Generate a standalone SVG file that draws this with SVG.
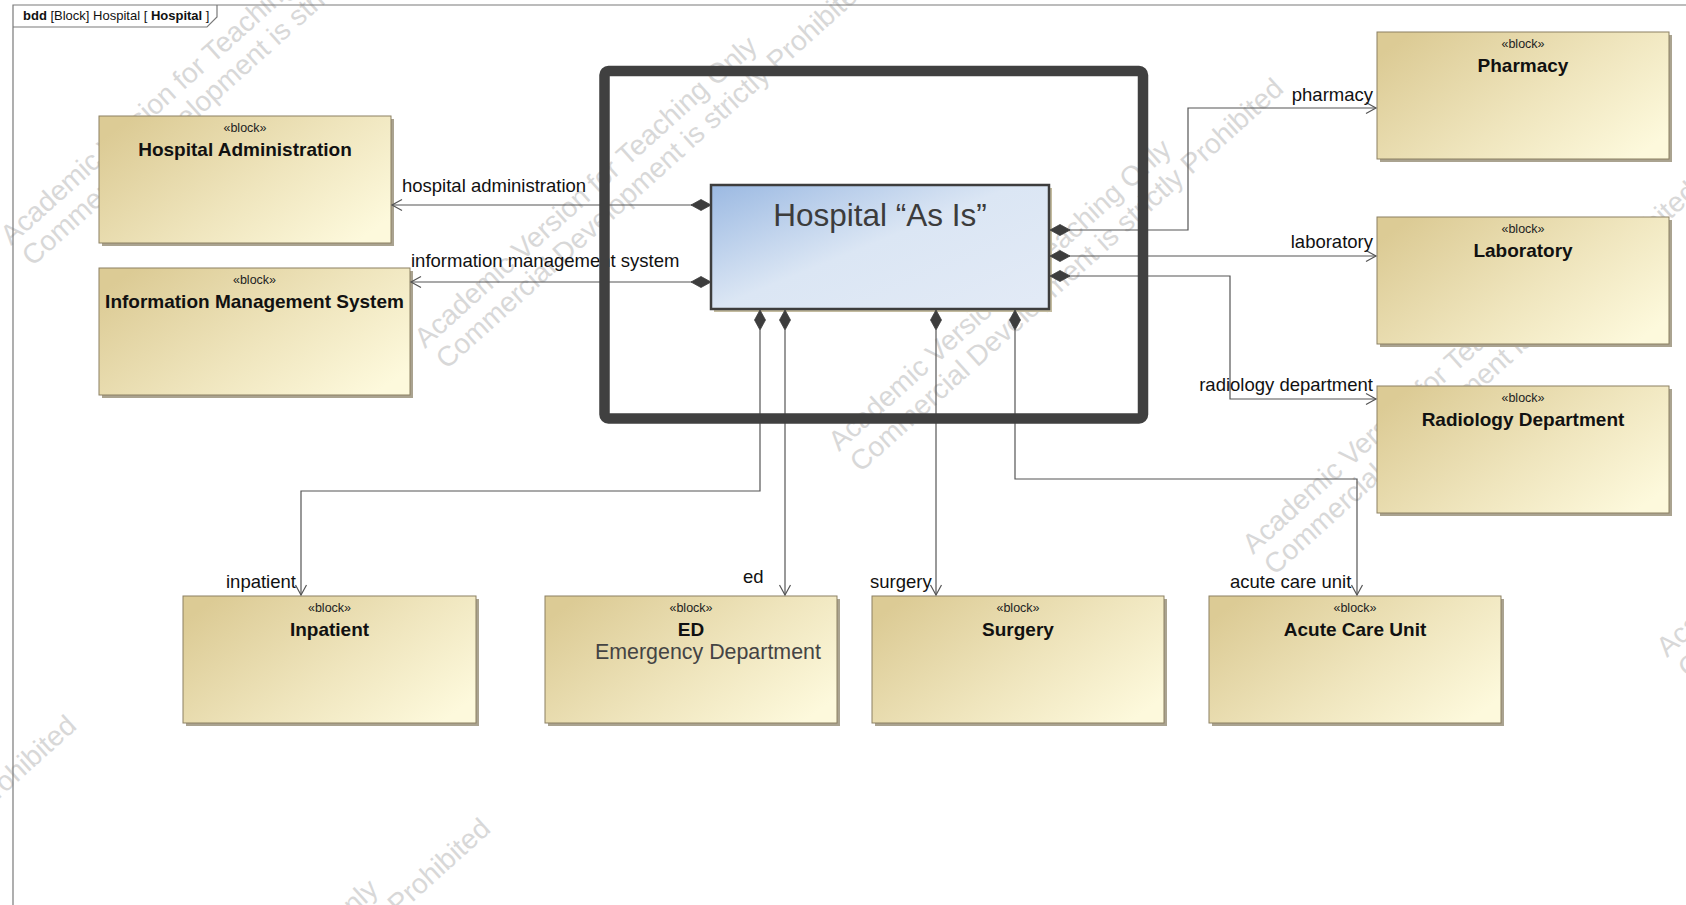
<svg xmlns="http://www.w3.org/2000/svg" width="1686" height="905" viewBox="0 0 1686 905">
  <defs>
    <linearGradient id="blockFill" x1="0" y1="0.2" x2="1" y2="0.8">
      <stop offset="0" stop-color="#dccb95"/>
      <stop offset="0.55" stop-color="#efe5bd"/>
      <stop offset="1" stop-color="#fdf9dc"/>
    </linearGradient>
    <linearGradient id="hospitalFill" x1="0" y1="0" x2="1" y2="0.9">
      <stop offset="0" stop-color="#9bb9e2"/>
      <stop offset="0.5" stop-color="#dbe6f4"/>
      <stop offset="1" stop-color="#e2eaf6"/>
    </linearGradient>
    <marker id="openArrow" markerUnits="userSpaceOnUse" markerWidth="14" markerHeight="14" viewBox="-12 -7 14 14" refX="0" refY="0" orient="auto">
      <path d="M-10,-5.5 L0,0 L-10,5.5" fill="none" stroke="#555" stroke-width="1.2"/>
    </marker>
    <path id="diamondH" d="M0,0 L10,-5.5 L20,0 L10,5.5 Z"/>
  </defs>
  <style>
    .sans { font-family: "Liberation Sans", Arial, sans-serif; }
    .wm { font-family: "Liberation Sans", Arial, sans-serif; font-size: 28px; fill: #cfcfcf; opacity: 0.8; }
    .frame { fill: none; stroke: #7a7a7a; stroke-width: 1.2; }
    .shadow { fill: #aaa390; }
    .block { fill: url(#blockFill); stroke: #8b8063; stroke-width: 1; }
    .stereo { font-family: "Liberation Sans", Arial, sans-serif; font-size: 12.5px; fill: #222; text-anchor: middle; }
    .name { font-family: "Liberation Sans", Arial, sans-serif; font-size: 19px; font-weight: bold; fill: #111; text-anchor: middle; }
    .note { font-family: "Liberation Sans", Arial, sans-serif; font-size: 21.4px; fill: #444; }
    .link { fill: none; stroke: #555; stroke-width: 1.2; marker-end: url(#openArrow); }
    .label { font-family: "Liberation Sans", Arial, sans-serif; font-size: 18.5px; fill: #111; }
    .end { text-anchor: end; }
    .diamond { fill: #3d3d3d; stroke: #3d3d3d; stroke-width: 0.8; }
  </style>

  <rect width="1686" height="905" fill="#ffffff"/>

  <!-- license watermark, repeated across the sheet -->
  <g id="watermark">
    <g transform="translate(11,246) rotate(-42)"><text class="wm">Academic Version for Teaching Only</text><text class="wm" x="2" y="30">Commercial Development is strictly Prohibited</text></g>
    <g transform="translate(425,349) rotate(-42)"><text class="wm">Academic Version for Teaching Only</text><text class="wm" x="2" y="30">Commercial Development is strictly Prohibited</text></g>
    <g transform="translate(839,452) rotate(-42)"><text class="wm">Academic Version for Teaching Only</text><text class="wm" x="2" y="30">Commercial Development is strictly Prohibited</text></g>
    <g transform="translate(1253,555) rotate(-42)"><text class="wm">Academic Version for Teaching Only</text><text class="wm" x="2" y="30">Commercial Development is strictly Prohibited</text></g>
    <g transform="translate(1667,658) rotate(-42)"><text class="wm">Academic Version for Teaching Only</text><text class="wm" x="2" y="30">Commercial Development is strictly Prohibited</text></g>
    <g transform="translate(-368,1089) rotate(-42)"><text class="wm">Academic Version for Teaching Only</text><text class="wm" x="2" y="30">Commercial Development is strictly Prohibited</text></g>
    <g transform="translate(46,1192) rotate(-42)"><text class="wm">Academic Version for Teaching Only</text><text class="wm" x="2" y="30">Commercial Development is strictly Prohibited</text></g>
  </g>

  <!-- bdd diagram frame with name tab -->
  <g id="diagram-frame">
    <path class="frame" d="M13,905 V5 H1686"/>
    <path class="frame" d="M13,27 H207 L217,17 V5"/>
    <text class="sans" x="23" y="20" font-size="13" fill="#111"><tspan font-weight="bold">bdd</tspan> [Block] Hospital [ <tspan font-weight="bold">Hospital</tspan> ]</text>
  </g>

  <!-- part blocks -->
  <g id="hospital-administration">
    <rect class="shadow" x="102" y="119" width="292" height="127"/>
    <rect class="block" x="99" y="116" width="292" height="127"/>
    <text class="stereo" x="245" y="132">«block»</text>
    <text class="name" x="245" y="156">Hospital Administration</text>
  </g>
  <g id="information-management-system">
    <rect class="shadow" x="102" y="271" width="311" height="127"/>
    <rect class="block" x="99" y="268" width="311" height="127"/>
    <text class="stereo" x="254.5" y="284">«block»</text>
    <text class="name" x="254.5" y="308">Information Management System</text>
  </g>
  <g id="pharmacy">
    <rect class="shadow" x="1380" y="35" width="292" height="127"/>
    <rect class="block" x="1377" y="32" width="292" height="127"/>
    <text class="stereo" x="1523" y="48">«block»</text>
    <text class="name" x="1523" y="72">Pharmacy</text>
  </g>
  <g id="laboratory">
    <rect class="shadow" x="1380" y="220" width="292" height="127"/>
    <rect class="block" x="1377" y="217" width="292" height="127"/>
    <text class="stereo" x="1523" y="233">«block»</text>
    <text class="name" x="1523" y="257">Laboratory</text>
  </g>
  <g id="radiology-department">
    <rect class="shadow" x="1380" y="389" width="292" height="127"/>
    <rect class="block" x="1377" y="386" width="292" height="127"/>
    <text class="stereo" x="1523" y="402">«block»</text>
    <text class="name" x="1523" y="426">Radiology Department</text>
  </g>
  <g id="inpatient">
    <rect class="shadow" x="186" y="599" width="293" height="127"/>
    <rect class="block" x="183" y="596" width="293" height="127"/>
    <text class="stereo" x="329.5" y="612">«block»</text>
    <text class="name" x="329.5" y="636">Inpatient</text>
  </g>
  <g id="ed">
    <rect class="shadow" x="548" y="599" width="292" height="127"/>
    <rect class="block" x="545" y="596" width="292" height="127"/>
    <text class="stereo" x="691" y="612">«block»</text>
    <text class="name" x="691" y="636">ED</text>
    <text class="note" x="595" y="659">Emergency Department</text>
  </g>
  <g id="surgery">
    <rect class="shadow" x="875" y="599" width="292" height="127"/>
    <rect class="block" x="872" y="596" width="292" height="127"/>
    <text class="stereo" x="1018" y="612">«block»</text>
    <text class="name" x="1018" y="636">Surgery</text>
  </g>
  <g id="acute-care-unit">
    <rect class="shadow" x="1212" y="599" width="292" height="127"/>
    <rect class="block" x="1209" y="596" width="292" height="127"/>
    <text class="stereo" x="1355" y="612">«block»</text>
    <text class="name" x="1355" y="636">Acute Care Unit</text>
  </g>

  <!-- whole hospital block -->
  <g id="hospital-as-is">
    <rect x="714" y="188" width="338" height="124" fill="#c3bb9f"/>
    <rect x="711" y="185" width="338" height="124" fill="url(#hospitalFill)" stroke="#3d3d3d" stroke-width="2.5"/>
    <text class="sans" x="880" y="226" font-size="31.5" fill="#3c3c3c" text-anchor="middle">Hospital “As Is”</text>
  </g>

  <!-- composition links: diamond at the whole, open arrow at the part -->
  <g id="connectors">
    <path class="link" d="M692,205 H392"/>
    <path class="link" d="M692,282 H411"/>
    <path class="link" d="M1069,230 H1188 V108 H1376"/>
    <path class="link" d="M1069,256 H1376"/>
    <path class="link" d="M1069,276 H1230 V399 H1376"/>
    <path class="link" d="M760,330 V491 H301 V595"/>
    <path class="link" d="M785,330 V595"/>
    <path class="link" d="M936,330 V595"/>
    <path class="link" d="M1015,330 V479 H1357 V595"/>

    <use href="#diamondH" class="diamond" transform="translate(691,205)"/>
    <use href="#diamondH" class="diamond" transform="translate(691,282)"/>
    <use href="#diamondH" class="diamond" transform="translate(1050,230)"/>
    <use href="#diamondH" class="diamond" transform="translate(1050,256)"/>
    <use href="#diamondH" class="diamond" transform="translate(1050,276)"/>
    <use href="#diamondH" class="diamond" transform="translate(760,310) rotate(90)"/>
    <use href="#diamondH" class="diamond" transform="translate(785,310) rotate(90)"/>
    <use href="#diamondH" class="diamond" transform="translate(936,310) rotate(90)"/>
    <use href="#diamondH" class="diamond" transform="translate(1015,310) rotate(90)"/>

    <text class="label" x="402" y="192">hospital administration</text>
    <text class="label" x="411" y="267">information management system</text>
    <text class="label end" x="1373" y="101">pharmacy</text>
    <text class="label end" x="1373" y="248">laboratory</text>
    <text class="label end" x="1373" y="391">radiology department</text>
    <text class="label" x="226" y="588">inpatient</text>
    <text class="label" x="743" y="583">ed</text>
    <text class="label" x="870" y="588">surgery</text>
    <text class="label" x="1230" y="588">acute care unit</text>
  </g>

  <!-- heavy boundary drawn round the hospital block -->
  <g id="hospital-boundary">
    <rect x="604.5" y="71" width="538.5" height="347.5" rx="4" fill="none" stroke="#404040" stroke-width="10.5"/>
  </g>
</svg>
